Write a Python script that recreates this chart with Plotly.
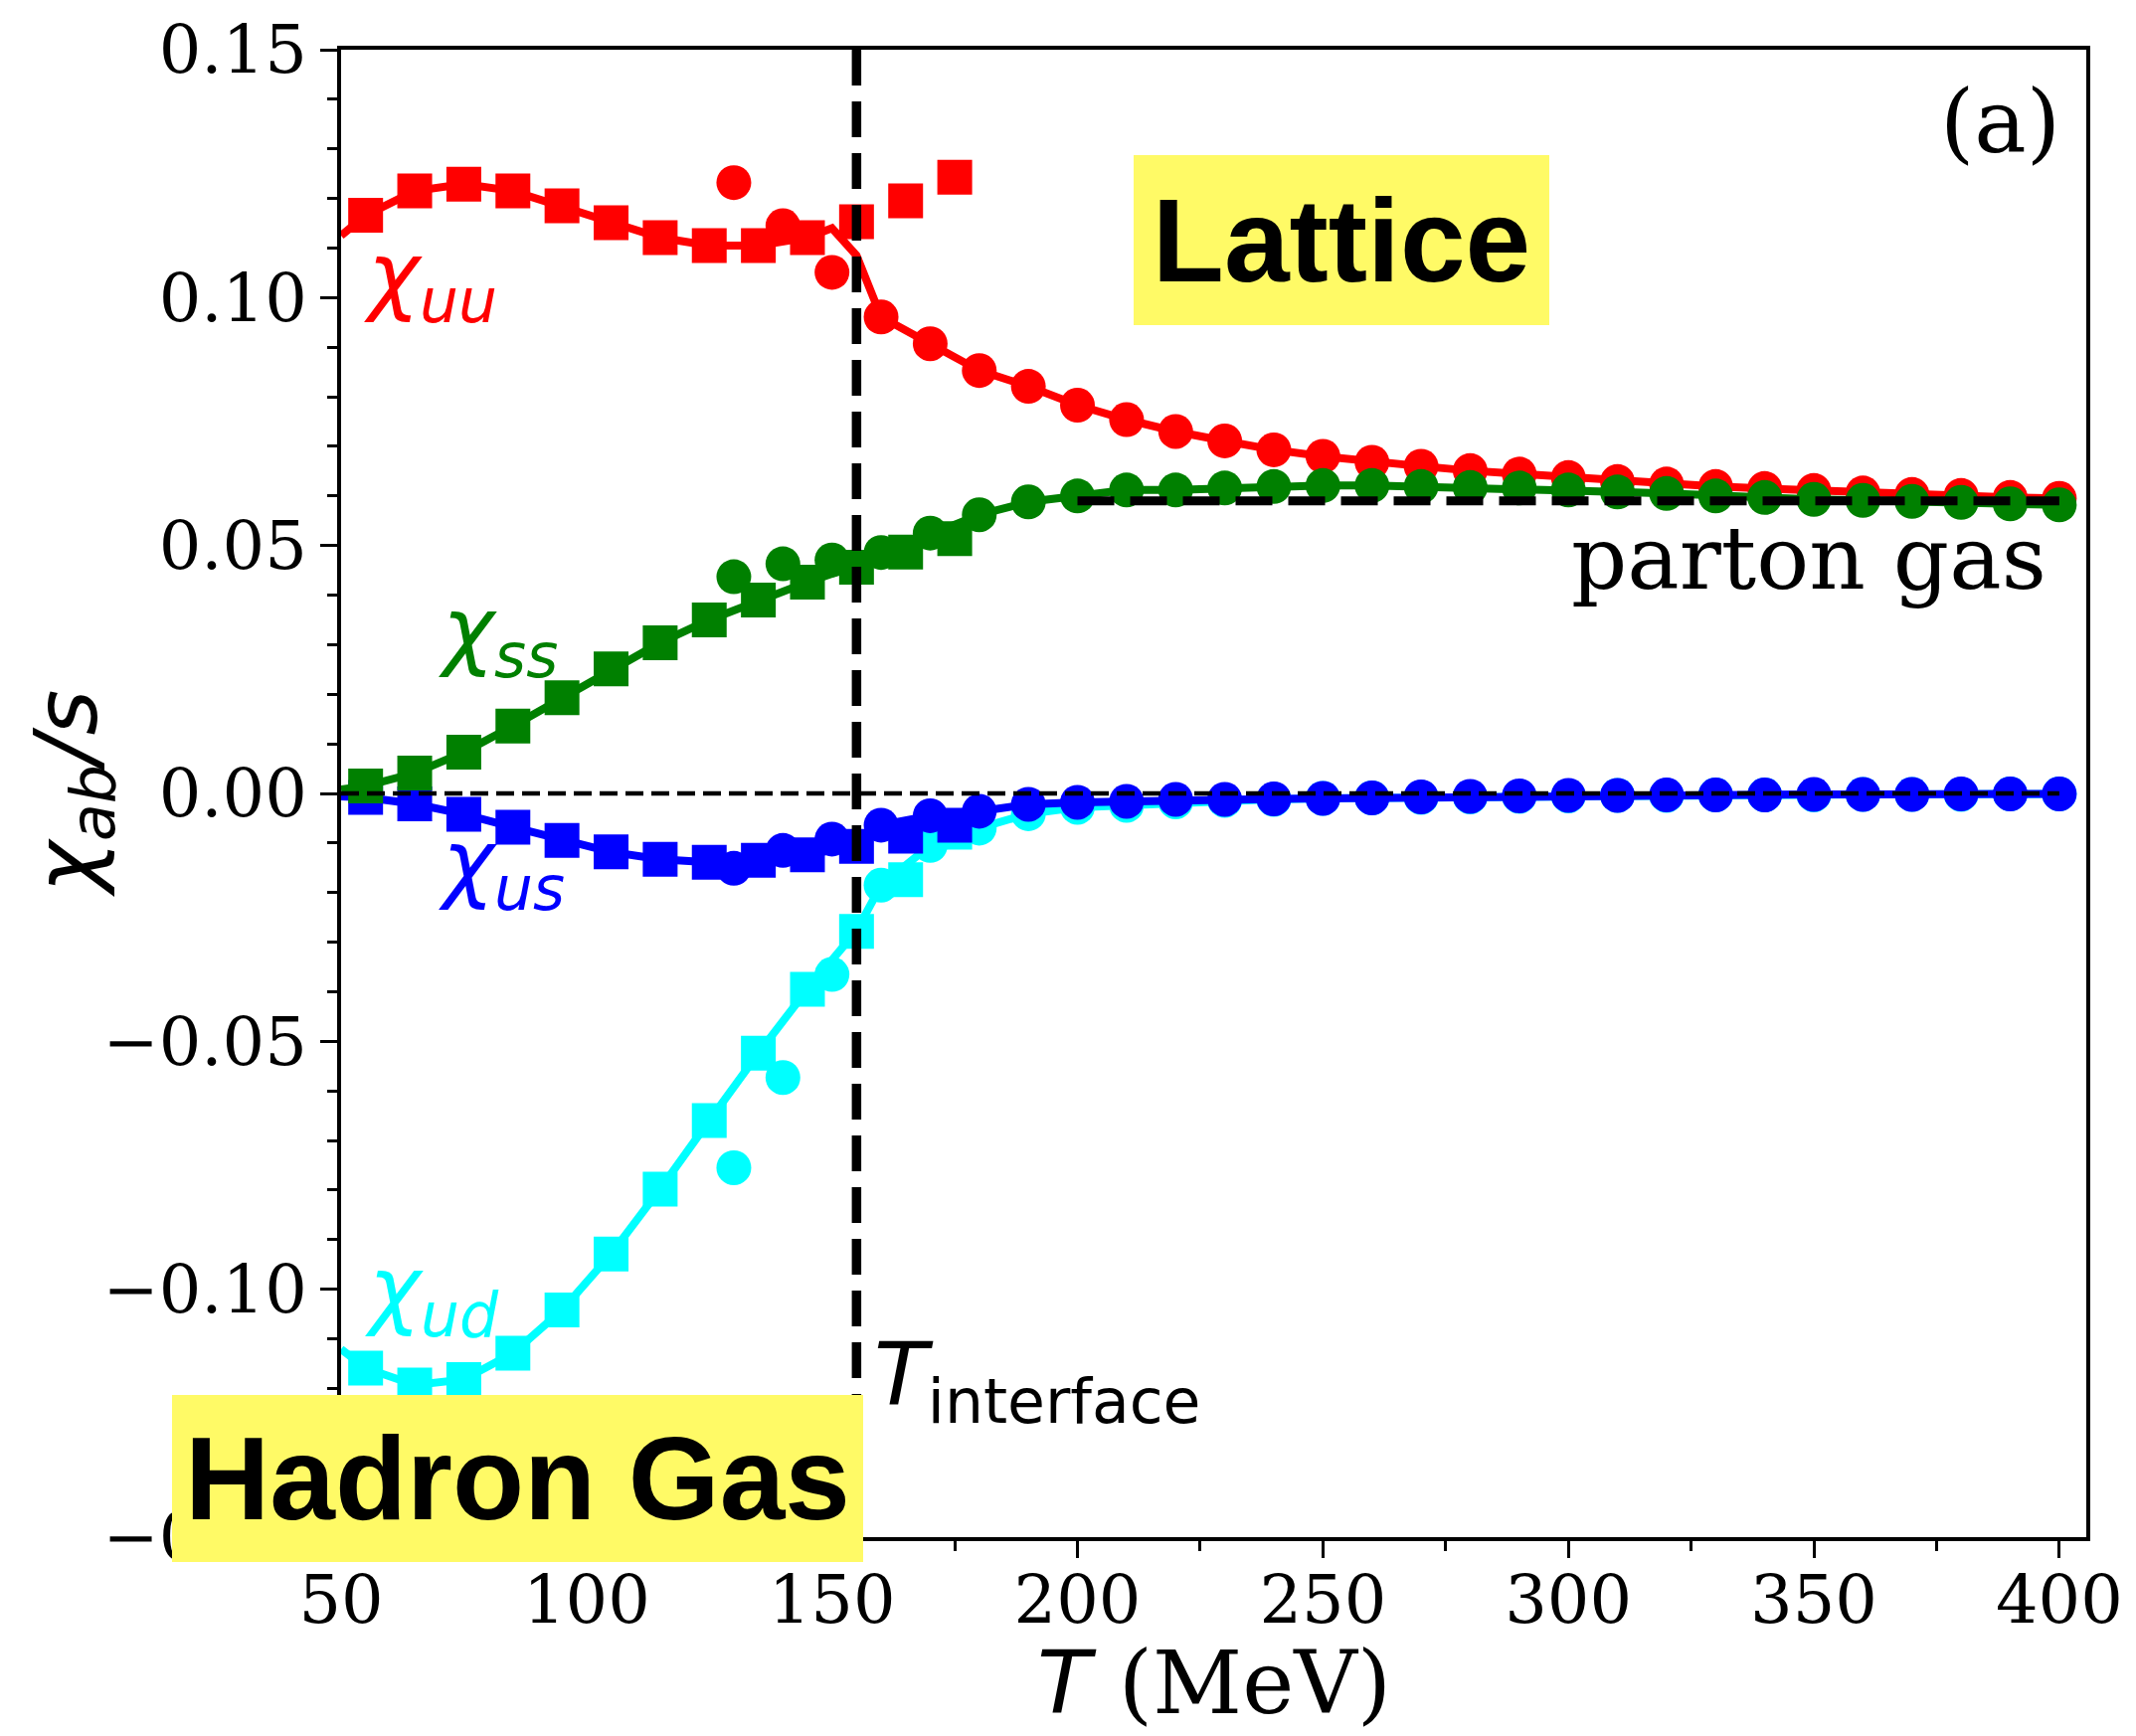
import plotly.graph_objects as go

# ---------------- data ----------------
T_hrg = [55, 65, 75, 85, 95, 105, 115, 125, 135, 145, 155, 165, 175]
T_lat = [130, 140, 150, 160, 170, 180, 190, 200, 210, 220, 230, 240, 250, 260,
         270, 280, 290, 300, 310, 320, 330, 340, 350, 360, 370, 380, 390, 400]
T_line = [50, 55, 65, 75, 85, 95, 105, 115, 125, 135, 145, 150, 155,
          160, 170, 180, 190, 200, 210, 220, 230, 240, 250, 260, 270, 280,
          290, 300, 310, 320, 330, 340, 350, 360, 370, 380, 390, 400]

uu_hrg = [0.1166, 0.1215, 0.1229, 0.1215, 0.1185, 0.1151, 0.1121, 0.1105,
          0.1105, 0.1121, 0.1153, 0.1195, 0.1243]
uu_lat = [0.1232, 0.1145, 0.1051, 0.0961, 0.0907, 0.0853, 0.0821, 0.0783,
          0.0754, 0.0730, 0.0711, 0.0693, 0.0680, 0.0668, 0.0660, 0.0651,
          0.0644, 0.0637, 0.0629, 0.0624, 0.0619, 0.0615, 0.0611, 0.0606,
          0.0603, 0.0601, 0.0597, 0.0595]
uu_edge = [0.1125, 0.1140, 0.1085]   # line at T = 50, 150, 155

ss_hrg = [0.0015, 0.0041, 0.0083, 0.0136, 0.0193, 0.0251, 0.0304, 0.0350,
          0.0390, 0.0426, 0.0456, 0.0487, 0.0514]
ss_lat = [0.0437, 0.0463, 0.0471, 0.0486, 0.0525, 0.0562, 0.0588, 0.0600,
          0.0612, 0.0612, 0.0616, 0.0619, 0.0621, 0.0621, 0.0619, 0.0617,
          0.0616, 0.0612, 0.0608, 0.0605, 0.0600, 0.0597, 0.0593, 0.0591,
          0.0589, 0.0587, 0.0584, 0.0582]
ss_edge = [0.0008, 0.0443, 0.0463]

us_hrg = [-0.0008, -0.0021, -0.0042, -0.0068, -0.0095, -0.0118, -0.0133,
          -0.0139, -0.0135, -0.0124, -0.0107, -0.0086, -0.0064]
us_lat = [-0.0151, -0.0115, -0.0092, -0.0064, -0.0045, -0.0036, -0.0022,
          -0.0018, -0.0016, -0.0012, -0.0012, -0.0011, -0.0010, -0.0009,
          -0.0007, -0.0006, -0.0005, -0.0004, -0.0004, -0.0003, -0.0003,
          -0.0003, -0.0002, -0.0002, -0.0002, -0.0001, -0.0001, -0.0001]
us_edge = [-0.0006, -0.0114, -0.0095]

ud_hrg = [-0.1159, -0.1193, -0.1182, -0.1129, -0.1042, -0.0929, -0.0798,
          -0.0660, -0.0524, -0.0395, -0.0278, -0.0174, -0.0078]
ud_lat = [-0.0755, -0.0573, -0.0365, -0.0185, -0.0105, -0.0070, -0.0041,
          -0.0028, -0.0024, -0.0017, -0.0014, -0.0012, -0.0010, -0.0009,
          -0.0008, -0.0007, -0.0006, -0.0005, -0.0004, -0.0004, -0.0003,
          -0.0003, -0.0003, -0.0002, -0.0002, -0.0002, -0.0001, -0.0001]
ud_edge = [-0.1121, -0.0336, -0.0277]

T_interface = 155
parton_T = [200, 400]
parton_value = 0.0590
zero_T = [50, 400]

x_ticks = [50, 100, 150, 200, 250, 300, 350, 400]
y_ticks = [-0.15, -0.10, -0.05, 0.00, 0.05, 0.10, 0.15]


def line_values(edge, hrg, lat):
    # model curve: hadron gas below the interface, lattice above it
    return [edge[0]] + hrg[:10] + [edge[1], edge[2]] + lat[3:]


# ---------------- figure ----------------
RED, GREEN, BLUE, CYAN = "#ff0000", "#008000", "#0000ff", "#00ffff"
LW = 8
MS = 35

fig = go.Figure()


def add_species(color, edge, hrg, lat):
    fig.add_trace(go.Scatter(x=T_line, y=line_values(edge, hrg, lat), mode="lines",
                             line=dict(color=color, width=LW), hoverinfo="skip"))
    fig.add_trace(go.Scatter(x=T_hrg, y=hrg, mode="markers",
                             marker=dict(symbol="square", size=MS, color=color,
                                         line=dict(width=0))))
    fig.add_trace(go.Scatter(x=T_lat, y=lat, mode="markers",
                             marker=dict(symbol="circle", size=MS, color=color,
                                         line=dict(width=0))))


add_species(RED, uu_edge, uu_hrg, uu_lat)
add_species(CYAN, ud_edge, ud_hrg, ud_lat)
add_species(BLUE, us_edge, us_hrg, us_lat)
add_species(GREEN, ss_edge, ss_hrg, ss_lat)

# reference lines
fig.add_trace(go.Scatter(x=zero_T, y=[0, 0], mode="lines",
                         line=dict(color="black", width=4.5, dash="18px,8px")))
fig.add_trace(go.Scatter(x=[T_interface, T_interface], y=[0.15, -0.15], mode="lines",
                         line=dict(color="black", width=9.5, dash="36px,16px")))
fig.add_trace(go.Scatter(x=parton_T, y=[parton_value, parton_value], mode="lines",
                         line=dict(color="black", width=9, dash="37px,16px")))

SERIF = "DejaVu Serif"
SANS = "DejaVu Sans"
BOLD = "Liberation Sans"

ann = []


def label(text, x, y, color, size=88, family=SANS, xanchor="left", yanchor="middle", **kw):
    ann.append(dict(text=text, x=x, y=y, xref="x", yref="y", showarrow=False,
                    xanchor=xanchor, yanchor=yanchor,
                    font=dict(family=family, size=size, color=color), **kw))


label("<i>χ<sub>uu</sub></i>", 54.3, 0.1035, RED)
label("<i>χ<sub>ss</sub></i>", 69.4, 0.0320, GREEN)
label("<i>χ<sub>us</sub></i>", 69.4, -0.0150, BLUE)
label("<i>χ<sub>ud</sub></i>", 54.4, -0.1010, CYAN)
label("<i>T</i><sub>interface</sub>", 158.2, -0.1185, "black")
label("parton gas", 397.8, 0.0475, "black", family=SERIF, xanchor="right")
label("(a)", 400.6, 0.1354, "black", family=SERIF, xanchor="right")
label("<b>Lattice</b>", 253.8, 0.1115, "black", size=118, family=BOLD,
      xanchor="center", bgcolor="rgb(255,250,102)", width=418, height=171,
      borderpad=0, borderwidth=0)
label("<b>Hadron Gas</b>", 85.95, -0.1381, "black", size=118, family=BOLD,
      xanchor="center", bgcolor="rgb(255,250,102)", width=695, height=168,
      borderpad=0, borderwidth=0)

# axis titles
ann.append(dict(text="<i>χ<sub>ab</sub>/s</i>", x=-0.1544, y=0.5, xref="paper", yref="paper",
                showarrow=False, textangle=-90, xanchor="center", yanchor="middle",
                font=dict(family=SANS, size=88, color="black")))
ann.append(dict(text="<span style='font-family:DejaVu Sans'><i>T</i></span> (MeV)",
                x=0.5, y=-0.0976, xref="paper", yref="paper", showarrow=False,
                xanchor="center", yanchor="middle",
                font=dict(family=SERIF, size=88, color="black")))

axis_common = dict(showgrid=False, zeroline=False, showline=True, linecolor="black",
                   linewidth=3.5, mirror=True, ticks="outside", ticklen=17, tickwidth=3,
                   tickcolor="black", tickfont=dict(family=SERIF, size=67, color="black"))

fig.update_layout(
    width=2148, height=1746,
    margin=dict(l=343, r=50, t=50, b=200, autoexpand=False),
    paper_bgcolor="white", plot_bgcolor="white",
    showlegend=False,
    annotations=ann,
    xaxis=dict(range=[50, 405.5], tickvals=x_ticks, ticktext=[str(v) for v in x_ticks],
               ticklabelstandoff=-15,
               minor=dict(ticks="outside", ticklen=10, tickwidth=3, tickcolor="black",
                          dtick=25, tick0=0), **axis_common),
    yaxis=dict(range=[-0.15, 0.15], tickvals=y_ticks, tickformat=".2f",
               minor=dict(ticks="outside", ticklen=10, tickwidth=3, tickcolor="black",
                          dtick=0.01, tick0=0), **axis_common),
)

fig.write_html("out.html")
